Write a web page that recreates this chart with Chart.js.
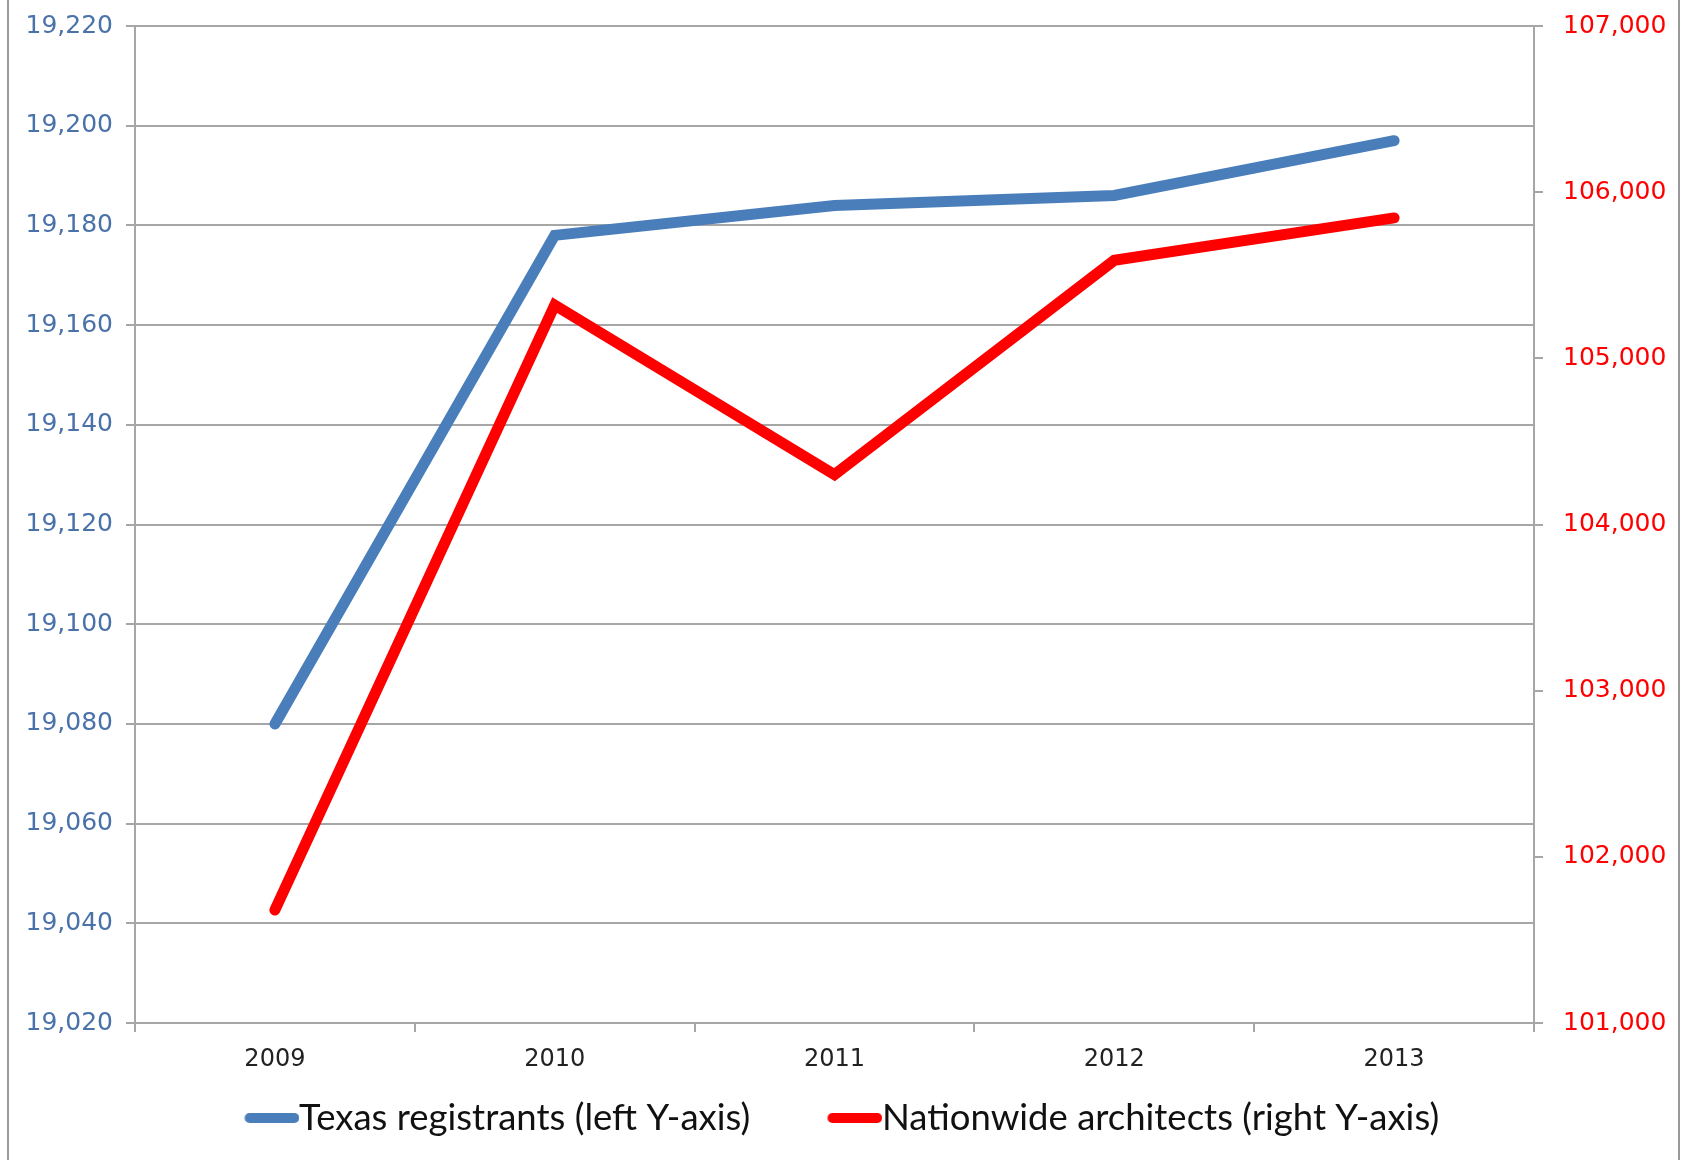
<!doctype html>
<html>
<head>
	<title>Texas registrants vs nationwide architects</title>
	<script src="https://cdn.jsdelivr.net/npm/chart.js@4.4.1/dist/chart.umd.min.js"></script>
	<style>
		body { margin: 0; background: #fff; }
		#wrap { position: relative; width: 1684px; height: 1160px; }
		.edge { position: absolute; top: 0; width: 2px; height: 1160px; background: #9a9a9a; }
	</style>
</head>
<body>
	<div id="wrap">
		<canvas id="canvas" width="1684" height="1160"></canvas>
		<div class="edge" style="left: 7px;"></div>
		<div class="edge" style="left: 1678px;"></div>
	</div>
	<script>
		var years = ['2009', '2010', '2011', '2012', '2013'];
		var texasRegistrants = [19080, 19178, 19184, 19186, 19197];
		var nationwideArchitects = [101680, 105320, 104300, 105590, 105845];
		var leftTicks = { min: 19020, max: 19220, step: 20 };
		var rightTicks = { min: 101000, max: 107000, step: 1000 };

		var blue = '#4a7ebb';
		var red = '#ff0000';
		var gridGrey = '#a6a6a6';
		var tickFont = '"DejaVu Sans", sans-serif';
		var legendFont = 'Lato, sans-serif';
		var legendSize = 36.5;
		var legendBox = 36;
		var legendGap = 77.5;
		var legendTextY = 1118;

		// legend swatch: thick rounded line that runs right up to the text
		function swatch(color) {
			var c = document.createElement('canvas');
			c.width = Math.round(legendBox + legendSize);
			c.height = 12;
			var g = c.getContext('2d');
			g.strokeStyle = color;
			g.lineWidth = 10;
			g.lineCap = 'round';
			g.beginPath();
			g.moveTo(legendSize / 2 + 5, 6);
			g.lineTo(c.width - 5, 6);
			g.stroke();
			return c;
		}

		function noOverflow(scale) {
			scale.paddingTop = 0;
			scale.paddingBottom = 0;
			scale.paddingLeft = 0;
			scale.paddingRight = 0;
		}

		// legend row sits at top + padding; pull the box top up so the row lands where the reference has it
		var legendPlace = {
			id: 'legendPlace',
			afterLayout: function (chart) {
				var l = chart.legend;
				l.top += legendTextY - (l.top + legendGap + legendSize / 2);
				l.bottom = chart.height;
			}
		};

		var ctx = document.getElementById('canvas').getContext('2d');
		window.myLine = new Chart(ctx, {
			type: 'line',
			data: {
				labels: years,
				datasets: [{
					label: 'Texas registrants (left Y-axis)',
					data: texasRegistrants,
					borderColor: blue,
					backgroundColor: blue,
					borderWidth: 11,
					borderCapStyle: 'round',
					pointRadius: 0,
					yAxisID: 'yLeft'
				}, {
					label: 'Nationwide architects (right Y-axis)',
					data: nationwideArchitects,
					borderColor: red,
					backgroundColor: red,
					borderWidth: 11,
					borderCapStyle: 'round',
					pointRadius: 0,
					yAxisID: 'yRight'
				}]
			},
			plugins: [legendPlace],
			options: {
				responsive: false,
				animation: false,
				layout: { padding: { top: 26, left: 0, right: 0, bottom: 0 } },
				plugins: {
					tooltip: { enabled: false },
					legend: {
						position: 'bottom',
						maxHeight: 82,
						labels: {
							usePointStyle: true,
							pointStyleWidth: legendBox,
							boxHeight: 10,
							padding: legendGap,
							color: '#111',
							font: { family: legendFont, size: legendSize },
							generateLabels: function (chart) {
								return chart.data.datasets.map(function (ds, i) {
									return {
										text: ds.label,
										strokeStyle: ds.borderColor,
										fillStyle: ds.borderColor,
										lineWidth: 0,
										pointStyle: swatch(ds.borderColor),
										datasetIndex: i,
										fontColor: '#111'
									};
								});
							}
						}
					}
				},
				scales: {
					x: {
						offset: true,
						grid: { offset: true, drawOnChartArea: false, color: gridGrey, lineWidth: 2, tickLength: 9 },
						border: { color: gridGrey, width: 2 },
						ticks: { color: '#222', padding: 13, font: { family: tickFont, size: 24 } },
						afterFit: function (scale) { scale.height = 55; noOverflow(scale); }
					},
					yLeft: {
						position: 'left',
						min: leftTicks.min,
						max: leftTicks.max,
						grid: { color: gridGrey, lineWidth: 2, tickLength: 9 },
						border: { color: gridGrey, width: 2 },
						ticks: {
							stepSize: leftTicks.step,
							color: '#4a72aa',
							padding: 13,
							font: { family: tickFont, size: 25 },
							callback: function (v) { return v.toLocaleString('en-US'); }
						},
						afterFit: function (scale) { scale.width = 135; noOverflow(scale); }
					},
					yRight: {
						position: 'right',
						min: rightTicks.min,
						max: rightTicks.max,
						grid: { drawOnChartArea: false, color: gridGrey, lineWidth: 2, tickLength: 9 },
						border: { color: gridGrey, width: 2 },
						ticks: {
							stepSize: rightTicks.step,
							color: red,
							padding: 20,
							font: { family: tickFont, size: 25 },
							callback: function (v) { return v.toLocaleString('en-US'); }
						},
						afterFit: function (scale) { scale.width = 150; noOverflow(scale); }
					}
				}
			}
		});
	</script>
</body>
</html>
